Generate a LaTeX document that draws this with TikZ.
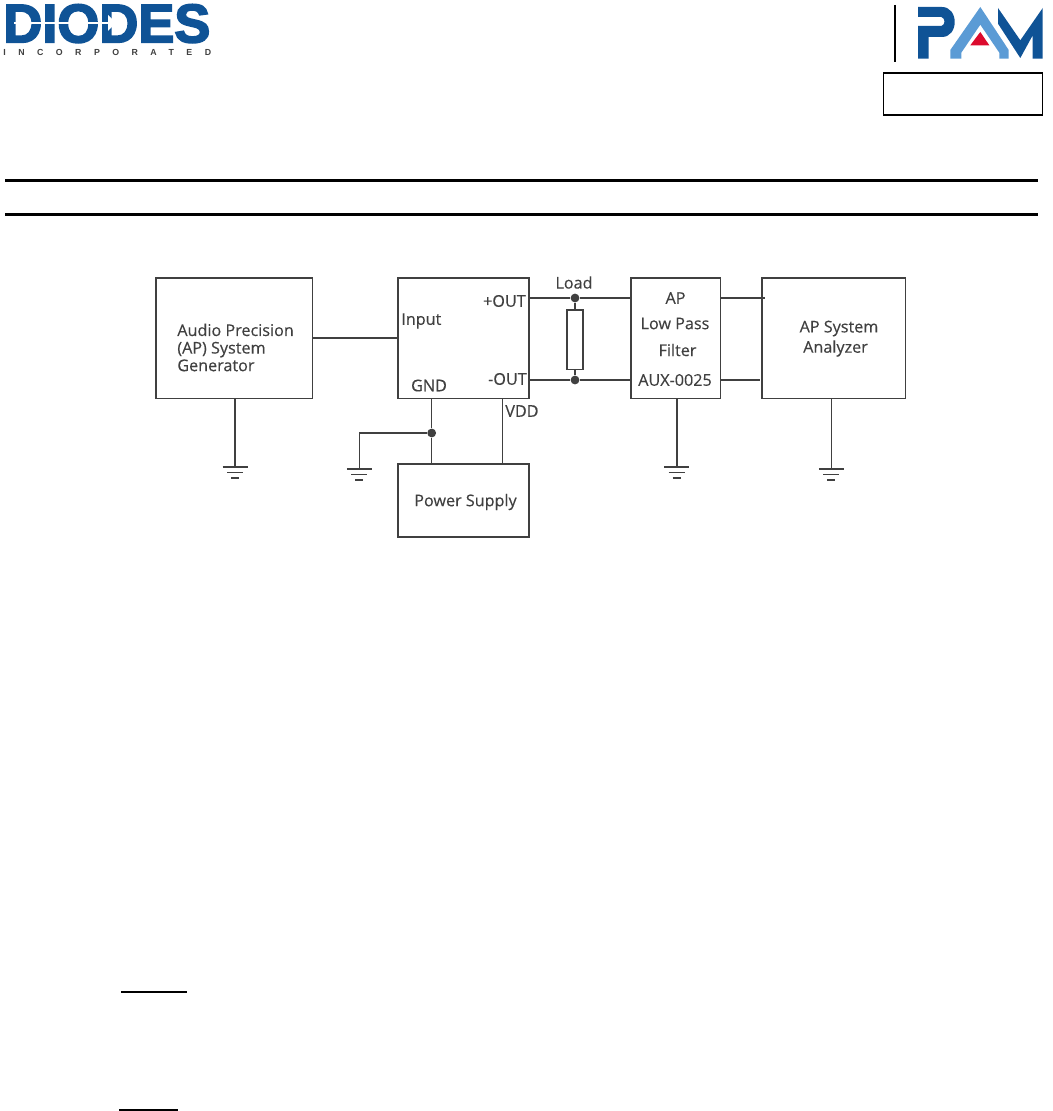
\documentclass[tikz,border=0pt]{standalone}
\usepackage{fontspec}
\setmainfont[FakeBold=.35]{Open Sans}
\newfontfamily\logofont[FakeBold=3.2]{Liberation Sans Bold}
\newfontfamily\taglinefont[LetterSpace=142]{Liberation Sans Bold}
\definecolor{wiregray}{HTML}{404040}
\definecolor{diodesblue}{HTML}{0F5396}
\definecolor{pamlight}{HTML}{5B9BD5}
\definecolor{pamred}{HTML}{DC0A2D}
\tikzset{
  wire/.style={draw=wiregray,line width=.9pt},
  blockbox/.style={wire,minimum height=2.41cm,inner sep=0pt},
  junction/.style={circle,fill=wiregray,minimum size=5pt,inner sep=0pt},
  lbl/.style={text=wiregray,inner sep=0pt,font=\fontsize{9.2}{10}\selectfont},
  headrule/.style={line width=1.7pt},
}
\begin{document}
\begin{tikzpicture}[x=.02cm,y=-.02cm]
        \useasboundingbox (0,0) rectangle (1052,1111);
        % logos
        \node[text=diodesblue,inner sep=0pt,anchor=north west] (diodes) at (3,4) {\resizebox{4.14cm}{.76cm}{\logofont\bfseries DIODES}};
        \node[text=wiregray,inner sep=0pt,anchor=west,font=\taglinefont\fontsize{5}{6}\selectfont] (tagline) at (3,52.5) {INCORPORATED};
        \draw[white,line width=.7pt] (14,23) -- (110,23);
        \fill[white] (108,15) -- (116,23) -- (108,31) -- cycle;
        \draw[line width=.8pt] (895,5) -- (895,62);
        \fill[diodesblue] (918,7) -- (942,7) .. controls (950,7) and (954.7,14) .. (954.7,22) .. controls (954.7,30) and (950,37) .. (942,37) -- (928.7,37) -- (928.7,58.7) -- (918,58.7) -- (918,26) -- (941.3,26) .. controls (945.5,25) and (945.5,18) .. (941.3,17) -- (918,17) -- cycle;
        \fill[pamlight] (980.3,7) -- (950.3,50) -- (950.3,58.7) -- (961.3,58.7) -- (961.3,52.7) -- (980.3,24.7) -- (999.3,52.7) -- (999.3,58.7) -- (1008.7,58.7) -- (1008.7,50) -- cycle;
        \fill[pamred] (980.3,32) -- (970.3,45.3) -- (989.3,45.3) -- cycle;
        \fill[diodesblue] (998,8) -- (1020.3,40.3) -- (1042.7,8) -- (1042.7,58.7) -- (1032.7,58.7) -- (1032.7,35.3) -- (1020.3,58) -- (998,23.7) -- cycle;
        % page furniture
        \node[draw,line width=1.1pt,minimum width=3.18cm,minimum height=.84cm] (refbox) at (963,94) {};
        \draw[headrule] (5,180.5) -- (1038,180.5);
        \draw[headrule] (5,214.5) -- (1038,214.5);
        \draw[line width=1.1pt] (121,992) -- (187,992);
        \draw[line width=1.1pt] (119,1110) -- (178,1110);
        % blocks
        \node[blockbox,minimum width=3.134cm] (generator) at (234.3,338.2) {};
        \node[blockbox,minimum width=2.62cm] (amp) at (463.5,338.2) {};
        \node[blockbox,minimum width=2.62cm,minimum height=1.46cm] (supply) at (463.5,500.5) {};
        \node[blockbox,minimum width=1.794cm] (filter) at (675.8,338.2) {};
        \node[blockbox,minimum width=2.874cm] (analyzer) at (833.8,338.2) {};
        \node[blockbox,minimum width=.32cm,minimum height=1.194cm] (load) at (575,339.8) {};
        % block texts
        \node[lbl,anchor=west,align=left] (gentext) at (177,347.5) {Audio Precision\\(AP) System\\Generator};
        \node[lbl,anchor=west] (inputtext) at (401,321) {Input};
        \node[lbl,anchor=east] (plusout) at (526,301) {+OUT};
        \node[lbl,anchor=east] (minusout) at (527,379) {-OUT};
        \node[lbl] (gndtext) at (429,385.5) {GND};
        \node[lbl,anchor=west] (vddtext) at (505,411) {VDD};
        \node[lbl] (supplytext) at (465.5,502) {Power Supply};
        \node[lbl] (loadtext) at (574,282.5) {Load};
        \node[lbl] (aptext) at (675.5,298) {AP};
        \node[lbl] (lowtext) at (675,323.5) {Low Pass};
        \node[lbl] (filtertext) at (677.5,350) {Filter};
        \node[lbl] (auxtext) at (675,380) {AUX-0025};
        \node[lbl] (systext) at (839,328.5) {AP System};
        \node[lbl] (analyzertext) at (835.5,348.5) {Analyzer};
        % junctions and wire ends
        \node[junction] (looptop) at (575,298) {};
        \node[junction] (loopbot) at (575,380) {};
        \node[junction] (gndjoin) at (431.7,433) {};
        \coordinate (plusa) at (amp.east |- looptop);
        \coordinate (plusf) at (filter.west |- looptop);
        \coordinate (minusa) at (amp.east |- loopbot);
        \coordinate (minusf) at (filter.west |- loopbot);
        \coordinate (ampgnd) at (amp.south -| gndjoin);
        \coordinate (psugnd) at (supply.north -| gndjoin);
        \coordinate (ampvdd) at (502.3,398.5);
        \coordinate (psuvdd) at (supply.north -| ampvdd);
        \coordinate (upperout) at (filter.east |- looptop);
        \coordinate (upperin) at (765,298);
        \coordinate (lowerout) at (filter.east |- loopbot);
        \coordinate (lowerin) at (760,380);
        % grounds
        \foreach \name/\gx/\gy in {gndgen/235/467,gndamp/359.3/469,gndfilter/676.7/467,gndana/831.3/469}{
          \coordinate (\name) at (\gx,\gy);
          \draw[wire] (\name) ++(-12.5,0) -- ++(25,0);
          \draw[wire] (\name) ++(-8,5.5) -- ++(16,0);
          \draw[wire] (\name) ++(-4,11) -- ++(8,0);
        }
        % wires
        \draw[wire] (generator.east) -- (amp.west);
        \draw[wire] (plusa) -- (looptop) -- (plusf);
        \draw[wire] (minusa) -- (loopbot) -- (minusf);
        \draw[wire] (looptop) -- (load);
        \draw[wire] (loopbot) -- (load);
        \draw[wire] (upperout) -- (upperin);
        \draw[wire] (lowerout) -- (lowerin);
        \draw[wire] (ampgnd) -- (gndjoin) -- (psugnd);
        \draw[wire] (gndjoin) -| (gndamp);
        \draw[wire] (ampvdd) -- (psuvdd);
        \draw[wire] (gndgen |- generator.south) -- (gndgen);
        \draw[wire] (gndfilter |- filter.south) -- (gndfilter);
        \draw[wire] (gndana |- analyzer.south) -- (gndana);
\end{tikzpicture}
\end{document}
